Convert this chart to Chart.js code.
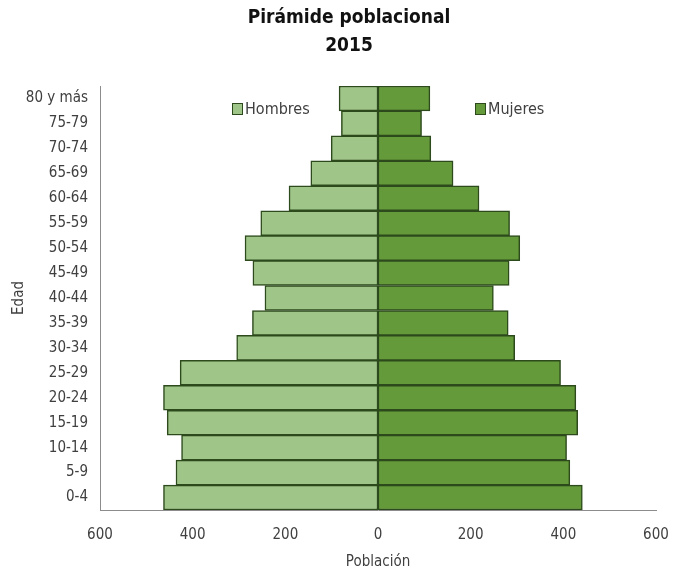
<!DOCTYPE html>
<html>
<head>
<meta charset="utf-8">
<script src="https://cdn.jsdelivr.net/npm/chart.js@4.4.1/dist/chart.umd.min.js"></script>
<style>
  html, body { margin: 0; padding: 0; background: #ffffff; }
  #wrap { width: 676px; height: 573px; }
</style>
</head>
<body>
<div id="wrap"><canvas id="pyr" width="676" height="573"></canvas></div>
<script>
// Age groups, youngest first
const ageGroups = ['0-4', '5-9', '10-14', '15-19', '20-24', '25-29', '30-34', '35-39',
  '40-44', '45-49', '50-54', '55-59', '60-64', '65-69', '70-74', '75-79', '80 y más'];
// Population by sex and age group
const hombres = [463, 436, 424, 455, 463, 427, 305, 271, 244, 270, 287, 253, 192, 145, 101, 79, 84];
const mujeres = [441, 414, 407, 431, 427, 394, 295, 281, 249, 283, 306, 284, 218, 162, 114, 94, 112];
const xTicks = [-600, -400, -200, 0, 200, 400, 600];

const FONT = "'Liberation Sans Narrow', 'Arial Narrow', 'DejaVu Sans Condensed', sans-serif";
const TEXT = '#404040';
const LIGHT = '#a0c589';
const DARK = '#649a39';
const EDGE = '#2c4a1c';

// Title and in-plot legend
const decorations = {
  id: 'decorations',
  afterDraw(chart) {
    const ctx = chart.ctx;
    ctx.save();
    ctx.fillStyle = '#111111';
    ctx.textAlign = 'center';
    ctx.textBaseline = 'middle';
    ctx.font = "bold 19px " + FONT;
    ctx.fillText('Pirámide poblacional', 349, 18);
    ctx.fillText('2015', 349, 46);

    const items = [
      { text: 'Hombres', color: LIGHT, x: 232 },
      { text: 'Mujeres', color: DARK, x: 475 }
    ];
    ctx.font = "16px " + FONT;
    ctx.textAlign = 'left';
    items.forEach(it => {
      ctx.fillStyle = it.color;
      ctx.fillRect(it.x, 103, 10, 11);
      ctx.strokeStyle = EDGE;
      ctx.lineWidth = 1;
      ctx.strokeRect(it.x + 0.5, 103.5, 10, 11);
      ctx.fillStyle = TEXT;
      ctx.fillText(it.text, it.x + 13, 110);
    });
    ctx.restore();
  }
};

new Chart(document.getElementById('pyr'), {
  type: 'bar',
  data: {
    labels: ageGroups,
    datasets: [
      {
        label: 'Hombres',
        data: hombres.map(v => -v),
        backgroundColor: LIGHT,
        borderColor: EDGE,
        borderWidth: 1.5,
        borderSkipped: false
      },
      {
        label: 'Mujeres',
        data: mujeres,
        backgroundColor: DARK,
        borderColor: EDGE,
        borderWidth: 1.5,
        borderSkipped: false
      }
    ]
  },
  options: {
    indexAxis: 'y',
    responsive: false,
    animation: false,
    devicePixelRatio: 1,
    layout: { padding: { top: 86, right: 20, left: 0, bottom: 0 } },
    datasets: { bar: { barPercentage: 1, categoryPercentage: 1 } },
    plugins: {
      legend: { display: false },
      title: { display: false },
      tooltip: { enabled: false }
    },
    scales: {
      x: {
        stacked: true,
        min: -600,
        max: 600,
        afterBuildTicks(scale) { scale.ticks = xTicks.map(v => ({ value: v })); },
        afterFit(scale) {
          scale.height = 63;
          scale.paddingLeft = 0;
          scale.paddingRight = 0;
        },
        grid: { display: false, drawTicks: false },
        border: { display: true, color: '#8c8c8c', width: 1 },
        ticks: {
          color: TEXT,
          font: { family: FONT, size: 15 },
          padding: 16,
          maxRotation: 0,
          callback: v => Math.abs(v)
        },
        title: {
          display: true,
          text: 'Población',
          color: TEXT,
          font: { family: FONT, size: 15 },
          padding: { top: 2, bottom: 2 }
        }
      },
      y: {
        stacked: true,
        reverse: true,
        afterFit(scale) {
          scale.width = 100;
          scale.paddingTop = 0;
          scale.paddingBottom = 0;
        },
        grid: { display: false, drawTicks: false },
        border: { display: true, color: '#8c8c8c', width: 1 },
        ticks: {
          color: TEXT,
          font: { family: FONT, size: 15 },
          padding: 12,
          autoSkip: false
        },
        title: {
          display: true,
          text: 'Edad',
          color: TEXT,
          font: { family: FONT, size: 15 },
          padding: { top: 10, bottom: 4 }
        }
      }
    }
  },
  plugins: [decorations]
});
</script>
</body>
</html>
